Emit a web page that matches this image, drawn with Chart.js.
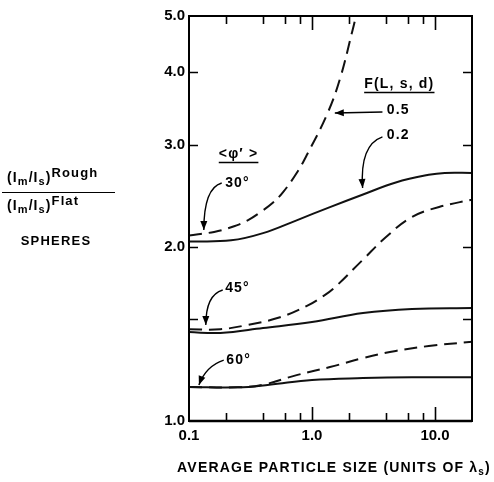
<!DOCTYPE html>
<html>
<head>
<meta charset="utf-8">
<script src="https://cdn.jsdelivr.net/npm/chart.js@4.4.1/dist/chart.umd.min.js"></script>
<style>
  html, body { margin: 0; padding: 0; background: #fff; }
  #chart { display: block; }
</style>
</head>
<body>
<canvas id="chart" width="494" height="482"></canvas>
<script>
// axis ticks
const xTicks = [0.1, 0.2, 0.4, 0.6, 0.8, 1, 2, 4, 6, 8, 10];
const xLabelled = [0.1, 1, 10];
const yTicks = [1, 1.5, 2, 3, 4, 5];
const yLabelled = [1, 2, 3, 4, 5];

// <phi'> = 30 deg
const size30Solid = [0.1, 0.22, 0.4, 0.75, 1.4, 2.6, 4.8, 8.9, 12, 20];
const ratio30Solid = [2.04, 2.05, 2.11, 2.22, 2.34, 2.46, 2.58, 2.66, 2.68, 2.68];
const size30Dash = [0.1, 0.16, 0.22, 0.3, 0.4, 0.48, 0.58, 0.76, 0.91, 1.32, 1.68, 2.14, 2.28];
const ratio30Dash = [2.09, 2.12, 2.16, 2.22, 2.31, 2.38, 2.48, 2.69, 2.88, 3.375, 3.88, 4.73, 5.0];

// <phi'> = 45 deg
const size45Solid = [0.1, 0.18, 0.4, 1.0, 2.6, 6.5, 20];
const ratio45Solid = [1.424, 1.419, 1.447, 1.482, 1.536, 1.561, 1.567];
const size45Dash = [0.1, 0.18, 0.3, 0.55, 0.91, 1.22, 1.48, 2.58, 4.0, 6.5, 10.8, 20];
const ratio45Dash = [1.44, 1.44, 1.465, 1.51, 1.58, 1.64, 1.689, 1.896, 2.078, 2.249, 2.341, 2.41];

// <phi'> = 60 deg
const size60Solid = [0.1, 0.25, 0.45, 1.0, 2.6, 6.5, 20];
const ratio60Solid = [1.145, 1.143, 1.155, 1.177, 1.186, 1.19, 1.19];
const size60Dash = [0.1, 0.25, 0.4, 0.75, 1.4, 2.6, 4.8, 8.9, 20];
const ratio60Dash = [1.145, 1.143, 1.155, 1.20, 1.239, 1.284, 1.321, 1.347, 1.37];

// annotations, in data units
const notes = [
  { text: 'F(L, s, d)', x: 5.13, y: 3.816, line: true },
  { text: '0.5', x: 5.03, y: 3.441 },
  { text: '0.2', x: 5.03, y: 3.116 },
  { text: '<\u03C6\u2032 >', x: 0.253, y: 2.889, line: true },
  { text: '30\u00B0', x: 0.248, y: 2.575 },
  { text: '45\u00B0', x: 0.248, y: 1.696 },
  { text: '60\u00B0', x: 0.253, y: 1.274 }
];
const arrows = [
  { from: [3.74, 3.415], ctrl: null, to: [1.533, 3.40] },
  { from: [3.74, 3.092], ctrl: [2.44, 2.995], to: [2.58, 2.524] },
  { from: [0.1845, 2.575], ctrl: [0.132, 2.524], to: [0.132, 2.136] },
  { from: [0.188, 1.683], ctrl: [0.137, 1.650], to: [0.137, 1.465] },
  { from: [0.1916, 1.274], ctrl: [0.137, 1.244], to: [0.1204, 1.154] }
];

const FONT = '"Liberation Sans", Arial, sans-serif';

function pts(xs, ys) {
  return xs.map((x, i) => ({ x: x, y: ys[i] }));
}

function series(xs, ys, dashed) {
  return {
    data: pts(xs, ys),
    borderColor: '#111',
    borderWidth: 2,
    borderDash: dashed ? [13, 7] : [],
    pointRadius: 0,
    showLine: true,
    fill: false,
    tension: 0.4
  };
}

function rich(ctx, x, y, parts, spacing, align) {
  ctx.letterSpacing = spacing + 'px';
  let w = 0;
  parts.forEach(([t, size]) => {
    ctx.font = 'bold ' + size + 'px ' + FONT;
    w += ctx.measureText(t).width;
  });
  let cx = align === 'center' ? x - w / 2 : x;
  ctx.textAlign = 'left';
  parts.forEach(([t, size, dy]) => {
    ctx.font = 'bold ' + size + 'px ' + FONT;
    ctx.fillText(t, cx, y + dy);
    cx += ctx.measureText(t).width;
  });
  return w;
}

function arrowHead(ctx, x0, y0, x1, y1) {
  const ang = Math.atan2(y1 - y0, x1 - x0);
  const len = 9, half = 3.5;
  ctx.beginPath();
  ctx.moveTo(x1, y1);
  ctx.lineTo(x1 - len * Math.cos(ang) + half * Math.sin(ang), y1 - len * Math.sin(ang) - half * Math.cos(ang));
  ctx.lineTo(x1 - len * Math.cos(ang) - half * Math.sin(ang), y1 - len * Math.sin(ang) + half * Math.cos(ang));
  ctx.closePath();
  ctx.fill();
}

const decor = {
  id: 'decor',
  afterDatasetsDraw(chart) {
    const ctx = chart.ctx;
    const a = chart.chartArea;
    const sx = chart.scales.x, sy = chart.scales.y;
    ctx.save();
    ctx.strokeStyle = '#000';
    ctx.fillStyle = '#000';
    ctx.setLineDash([]);

    // frame
    ctx.lineWidth = 2;
    ctx.strokeRect(a.left, a.top, a.right - a.left, a.bottom - a.top);
    ctx.lineWidth = 2.6;
    ctx.beginPath();
    ctx.moveTo(a.left, a.bottom);
    ctx.lineTo(a.right, a.bottom);
    ctx.stroke();

    // inward ticks
    ctx.lineWidth = 1.6;
    ctx.beginPath();
    xTicks.forEach(v => {
      if (v === 0.1) return;
      const px = Math.round(sx.getPixelForValue(v)) + 0.5;
      const len = xLabelled.includes(v) ? 14 : 8;
      ctx.moveTo(px, a.bottom);
      ctx.lineTo(px, a.bottom - len);
      ctx.moveTo(px, a.top);
      ctx.lineTo(px, a.top + len);
    });
    yTicks.forEach(v => {
      if (v === 1 || v === 5) return;
      const py = Math.round(sy.getPixelForValue(v)) + 0.5;
      ctx.moveTo(a.left, py);
      ctx.lineTo(a.left + 9, py);
      ctx.moveTo(a.right, py);
      ctx.lineTo(a.right - 9, py);
    });
    ctx.stroke();

    // arrows
    ctx.lineWidth = 1.4;
    arrows.forEach(ar => {
      const x0 = sx.getPixelForValue(ar.from[0]), y0 = sy.getPixelForValue(ar.from[1]);
      const x1 = sx.getPixelForValue(ar.to[0]), y1 = sy.getPixelForValue(ar.to[1]);
      ctx.beginPath();
      ctx.moveTo(x0, y0);
      let bx = x0, by = y0;
      if (ar.ctrl) {
        bx = sx.getPixelForValue(ar.ctrl[0]);
        by = sy.getPixelForValue(ar.ctrl[1]);
        ctx.quadraticCurveTo(bx, by, x1, y1);
      } else {
        ctx.lineTo(x1, y1);
      }
      ctx.stroke();
      arrowHead(ctx, bx, by, x1, y1);
    });

    // labels inside the plot
    ctx.textBaseline = 'middle';
    notes.forEach(n => {
      const px = sx.getPixelForValue(n.x), py = sy.getPixelForValue(n.y);
      const w = rich(ctx, px, py, [[n.text, 14, 0]], 1.2, 'center');
      if (n.line) {
        ctx.lineWidth = 1.5;
        ctx.beginPath();
        ctx.moveTo(px - w / 2, py + 8.5);
        ctx.lineTo(px + w / 2, py + 8.5);
        ctx.stroke();
      }
    });

    // left hand ratio label
    ctx.textBaseline = 'alphabetic';
    rich(ctx, 7, 182, [['(I', 14, 0], ['m', 11, 3], ['/I', 14, 0], ['s', 11, 3], [')', 14, 0], ['Rough', 13, -5]], 1.1, 'left');
    rich(ctx, 7, 210, [['(I', 14, 0], ['m', 11, 3], ['/I', 14, 0], ['s', 11, 3], [')', 14, 0], ['Flat', 13, -5]], 1.1, 'left');
    ctx.lineWidth = 1;
    ctx.beginPath();
    ctx.moveTo(2, 192.5);
    ctx.lineTo(115, 192.5);
    ctx.stroke();
    rich(ctx, 56, 245, [['SPHERES', 13, 0]], 1.2, 'center');

    // x axis title
    rich(ctx, 334, 472, [['AVERAGE PARTICLE SIZE (UNITS OF \u03BB', 14, 0], ['s', 10, 3], [')', 14, 0]], 1.2, 'center');

    ctx.restore();
  }
};

const tickFont = { family: FONT, weight: 'bold', size: 15 };

new Chart(document.getElementById('chart'), {
  type: 'scatter',
  data: {
    datasets: [
      series(size30Dash, ratio30Dash, true),
      series(size30Solid, ratio30Solid, false),
      series(size45Dash, ratio45Dash, true),
      series(size45Solid, ratio45Solid, false),
      series(size60Dash, ratio60Dash, true),
      series(size60Solid, ratio60Solid, false)
    ]
  },
  options: {
    responsive: false,
    animation: false,
    layout: { padding: { top: 16, right: 22, left: 0, bottom: 0 } },
    plugins: { legend: { display: false }, tooltip: { enabled: false } },
    scales: {
      x: {
        type: 'logarithmic',
        min: 0.1,
        max: 20,
        grid: { display: false, drawTicks: false },
        border: { display: false },
        afterBuildTicks: s => { s.ticks = xTicks.map(v => ({ value: v })); },
        afterFit: s => { s.height = 61; },
        ticks: {
          autoSkip: false,
          maxRotation: 0,
          padding: 6,
          color: '#000',
          font: tickFont,
          callback: v => xLabelled.includes(v) ? v.toFixed(1) : ''
        }
      },
      y: {
        type: 'logarithmic',
        min: 1,
        max: 5,
        grid: { display: false, drawTicks: false },
        border: { display: false },
        afterBuildTicks: s => { s.ticks = yTicks.map(v => ({ value: v })); },
        afterFit: s => { s.width = 189; },
        ticks: {
          autoSkip: false,
          padding: 4,
          color: '#000',
          font: tickFont,
          callback: v => yLabelled.includes(v) ? v.toFixed(1) : ''
        }
      }
    }
  },
  plugins: [decor]
});
</script>
</body>
</html>
